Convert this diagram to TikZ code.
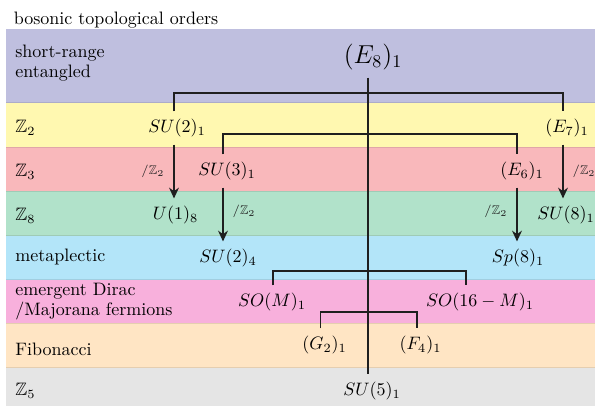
\documentclass[tikz,border=0pt]{standalone}
\usepackage{amssymb}
\usetikzlibrary{arrows.meta}
\definecolor{bandA}{HTML}{BFBFDF}
\definecolor{bandB}{HTML}{FFF8B0}
\definecolor{bandC}{HTML}{F9B8BB}
\definecolor{bandD}{HTML}{B1E2CA}
\definecolor{bandE}{HTML}{B3E5F9}
\definecolor{bandF}{HTML}{F8B0DC}
\definecolor{bandG}{HTML}{FFE5C4}
\definecolor{bandH}{HTML}{E5E5E5}
\begin{document}
\begin{tikzpicture}[x=0.5556pt,y=-0.5556pt,
  band/.style={fill=#1},
  edge/.style={draw=#1!90!black,line width=0.3pt},
  rowlabel/.style={anchor=west,inner sep=0pt,align=left},
  grp/.style={inner sep=4pt},
  quot/.style={inner sep=5pt,font=\scriptsize},
  conn/.style={line width=0.8pt,black!88},
  arr/.style={conn,-{Stealth[length=6pt,width=5.5pt]}}]
\useasboundingbox (0,0) rectangle (595,406);
\clip (0,0) rectangle (595,406);
% bands
\path[band=bandA] (6,29) rectangle (600,102);
\path[band=bandB] (6,102) rectangle (600,147);
\path[band=bandC] (6,147) rectangle (600,191);
\path[band=bandD] (6,191) rectangle (600,235);
\path[band=bandE] (6,235) rectangle (600,279);
\path[band=bandF] (6,279) rectangle (600,323);
\path[band=bandG] (6,323) rectangle (600,367);
\path[band=bandH] (6,367) rectangle (600,410);
\path[edge=bandA] (6,102) -- (600,102);
\path[edge=bandC] (6,147) -- (600,147);
\path[edge=bandD] (6,191) -- (600,191);
\path[edge=bandD] (6,235) -- (600,235);
\path[edge=bandE] (6,279) -- (600,279);
\path[edge=bandG] (6,323) -- (600,323);
\path[edge=bandG] (6,367) -- (600,367);
% title and row labels
\node[rowlabel] (title) at (13.5,20.5) {bosonic topological orders};
\node[rowlabel] (rA) at (15,63) {short-range\\[-1pt]entangled};
\node[rowlabel] (rB) at (15,128) {$\mathbb{Z}_2$};
\node[rowlabel] (rC) at (15,172) {$\mathbb{Z}_3$};
\node[rowlabel] (rD) at (15,216) {$\mathbb{Z}_8$};
\node[rowlabel] (rE) at (15,257) {metaplectic};
\node[rowlabel] (rF) at (15,302) {emergent Dirac\\[-1pt]/Majorana fermions};
\node[rowlabel] (rG) at (15,349) {Fibonacci};
\node[rowlabel] (rH) at (15,391) {$\mathbb{Z}_5$};
% theories
\node[grp,font=\Large] (E8) at (373,57) {$(E_8)_1$};
\node[grp] (SU2a) at (177,128) {$SU(2)_1$};
\node[grp] (E7) at (567,128) {$(E_7)_1$};
\node[grp] (SU3) at (227,171) {$SU(3)_1$};
\node[grp] (E6) at (522,171) {$(E_6)_1$};
\node[grp] (U18) at (175.5,215) {$U(1)_8$};
\node[grp] (SU8) at (566,215) {$SU(8)_1$};
\node[grp] (SU24) at (228,258) {$SU(2)_4$};
\node[grp] (Sp8) at (518,258) {$Sp(8)_1$};
\node[grp] (SOM) at (272,302) {$SO(M)_1$};
\node[grp] (SO16) at (480,302) {$SO(16-M)_1$};
\node[grp] (G2) at (324.5,345) {$(G_2)_1$};
\node[grp] (F4) at (420.5,345) {$(F_4)_1$};
\node[grp] (SU5) at (372,391) {$SU(5)_1$};
% columns and bracket levels
\coordinate (cA) at (174,0);
\coordinate (cB) at (223,0);
\coordinate (cS) at (368,0);
\coordinate (cC) at (517,0);
\coordinate (cD) at (563,0);
\coordinate (cE) at (273,0);
\coordinate (cF) at (466,0);
\coordinate (cG) at (320.5,0);
\coordinate (cH) at (417,0);
\coordinate (h1) at (0,93);
\coordinate (h2) at (0,134);
\coordinate (h3) at (0,271);
\coordinate (h4) at (0,312);
% connectors
\draw[conn] (E8.south -| cS) -- (SU5.north -| cS);
\draw[conn] (SU2a.north -| cA) -- (cA |- h1) -- (cD |- h1) -- (E7.north -| cD);
\draw[conn] (SU3.north -| cB) -- (cB |- h2) -- (cC |- h2) -- (E6.north -| cC);
\draw[conn] (SOM.north -| cE) -- (cE |- h3) -- (cF |- h3) -- (SO16.north -| cF);
\draw[conn] (G2.north -| cG) -- (cG |- h4) -- (cH |- h4) -- (F4.north -| cH);
\draw[arr] (SU2a.south -| cA) -- (U18.north -| cA) node[quot,midway,left] (qA) {$/\mathbb{Z}_2$};
\draw[arr] (SU3.south -| cB) -- (SU24.north -| cB) node[quot,pos=0.45,right] (qB) {$/\mathbb{Z}_2$};
\draw[arr] (E6.south -| cC) -- (Sp8.north -| cC) node[quot,pos=0.45,left] (qC) {$/\mathbb{Z}_2$};
\draw[arr] (E7.south -| cD) -- (SU8.north -| cD) node[quot,midway,right] (qD) {$/\mathbb{Z}_2$};
\end{tikzpicture}
\end{document}
